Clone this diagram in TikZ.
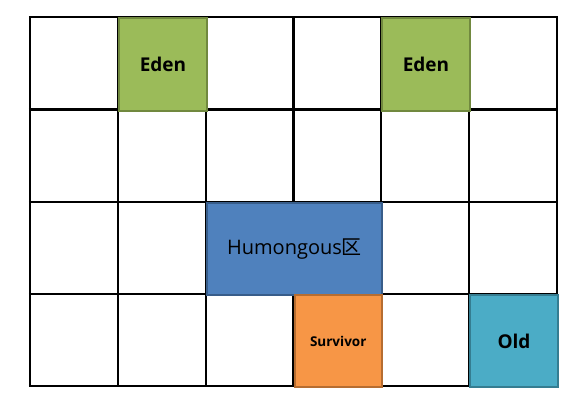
\documentclass[tikz,border=0pt]{standalone}
\usepackage{fontspec}
\setmainfont{Open Sans}
\newfontfamily\cjk{Noto Sans CJK SC}
\begin{document}
\begin{tikzpicture}[x=1pt,y=-1pt,
  cell/.style={rectangle,inner sep=0pt,line width=2pt,anchor=north west},
  edenbox/.style={cell,fill={rgb,255:red,155;green,187;blue,89},draw={rgb,255:red,113;green,137;blue,63},font=\fontsize{19}{22}\selectfont\bfseries},
  humbox/.style={cell,fill={rgb,255:red,79;green,129;blue,189},draw={rgb,255:red,56;green,93;blue,138},font=\fontsize{20}{24}\selectfont},
  survbox/.style={cell,fill={rgb,255:red,247;green,150;blue,70},draw={rgb,255:red,182;green,109;blue,49},font=\fontsize{13.5}{16}\selectfont\bfseries},
  oldbox/.style={cell,fill={rgb,255:red,75;green,172;blue,198},draw={rgb,255:red,53;green,125;blue,145},font=\fontsize{19}{22}\selectfont\bfseries},
  gridline/.style={line width=2.2pt,black}]
\useasboundingbox (0,0) rectangle (578,405);
% grid
\foreach \x in {30,118,206,293.5,381,469,557}
  \draw[gridline] (\x,17) -- (\x,386);
\foreach \y in {17,109.5,202,294,386}
  \draw[gridline] (28.9,\y) -- (558.1,\y);
% regions
\node[edenbox,minimum width=88pt,minimum height=92.5pt] (eden1) at (118,17) {Eden};
\node[edenbox,minimum width=88pt,minimum height=92.5pt] (eden2) at (381,17) {Eden};
\node[humbox,minimum width=175pt,minimum height=92pt] (hum) at (206,202) {Humongous{\cjk 区}};
\node[survbox,minimum width=87.5pt,minimum height=92pt] (surv) at (293.5,294) {Survivor};
\node[oldbox,minimum width=88pt,minimum height=92pt] (old) at (469,294) {Old};
\end{tikzpicture}
\end{document}
